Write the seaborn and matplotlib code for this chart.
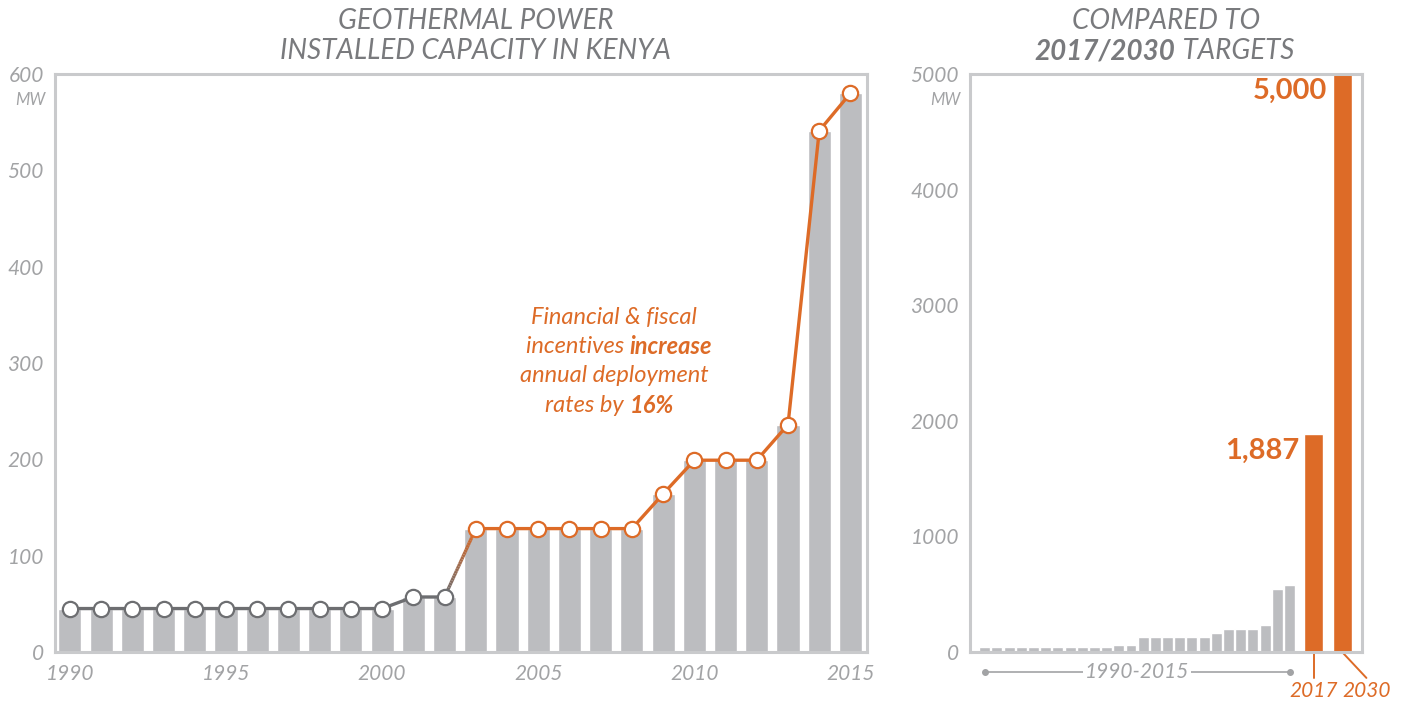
import numpy as np
import matplotlib.pyplot as plt
import seaborn as sns
import matplotlib.transforms as mtransforms
from matplotlib.collections import LineCollection
from matplotlib.colors import LinearSegmentedColormap

# data
years = [1990, 1991, 1992, 1993, 1994, 1995, 1996, 1997, 1998, 1999, 2000,
         2001, 2002, 2003, 2004, 2005, 2006, 2007, 2008, 2009, 2010, 2011,
         2012, 2013, 2014, 2015]
capacity_mw = [45, 45, 45, 45, 45, 45, 45, 45, 45, 45, 45,
               57, 57, 128, 128, 128, 128, 128, 128, 164, 199, 199,
               199, 236, 541, 580]
target_years = ["2017", "2030"]
target_mw = [1887, 5000]
target_labels = ["1,887", "5,000"]

GREY_BAR = "#bcbdc0"
ORANGE = "#dd6b27"
LINE_GREY = "#6d6e71"
SPINE = "#c9cacc"
TICK = "#a2a3a5"
TITLE = "#797a7d"

sns.set_theme(style="white")
plt.rcParams['font.family'] = ['Lato', 'DejaVu Sans']
plt.rcParams['font.style'] = 'italic'

fig = plt.figure(figsize=(14.08, 7.04), dpi=100)

# ---------- left panel ----------
ax1 = fig.add_axes([0.039, 0.074, 0.577, 0.821])
sns.barplot(x=years, y=capacity_mw, native_scale=True, color=GREY_BAR,
            saturation=1, width=0.74, ax=ax1, zorder=1)

split = years.index(2003)
sns.lineplot(x=years[:split], y=capacity_mw[:split], color=LINE_GREY, lw=2.4,
             marker='o', markersize=11, markerfacecolor='white',
             markeredgecolor=LINE_GREY, markeredgewidth=1.6, ax=ax1, zorder=4)
sns.lineplot(x=years[split:], y=capacity_mw[split:], color=ORANGE, lw=2.4,
             marker='o', markersize=11, markerfacecolor='white',
             markeredgecolor=ORANGE, markeredgewidth=1.6, ax=ax1, zorder=4)

# grey -> orange fade on the 2002-2003 step
t = np.linspace(0, 1, 30)
gx = years[split - 1] + t * (years[split] - years[split - 1])
gy = capacity_mw[split - 1] + t * (capacity_mw[split] - capacity_mw[split - 1])
pts = np.column_stack([gx, gy]).reshape(-1, 1, 2)
segs = np.concatenate([pts[:-1], pts[1:]], axis=1)
cmap = LinearSegmentedColormap.from_list("fade", [LINE_GREY, ORANGE])
lc = LineCollection(segs, cmap=cmap, linewidth=2.4, zorder=3)
lc.set_array(t[:-1])
ax1.add_collection(lc)

ax1.set_xlim(1989.52, 2015.54)
ax1.set_ylim(0, 600)
ax1.set_xticks([1990, 1995, 2000, 2005, 2010, 2015])
ax1.set_yticks(range(0, 601, 100))
ax1.set_xlabel("")
ax1.set_ylabel("")
ax1.tick_params(length=0, labelsize=15, labelcolor=TICK)
ax1.tick_params(axis='x', pad=9)
ax1.tick_params(axis='y', pad=8)
for s in ax1.spines.values():
    s.set_color(SPINE)
    s.set_linewidth(2.2)
ax1.annotate("MW", xy=(0, 600), xycoords=('axes fraction', 'data'),
             xytext=(-7, -19), textcoords='offset points', ha='right', va='center',
             fontsize=12, color=TICK)

# annotation text, bold parts placed next to the light parts
tc = dict(color=ORANGE, fontsize=17, transform=ax1.transAxes, va='center')
ax1.text(0.688, 0.578, "Financial & fiscal", ha='center', **tc)
ax1.text(0.707, 0.528, "incentives ", ha='right', **tc)
ax1.text(0.707, 0.528, "increase", ha='left', fontweight='bold', **tc)
ax1.text(0.688, 0.478, "annual deployment", ha='center', **tc)
ax1.text(0.707, 0.427, "rates by ", ha='right', **tc)
ax1.text(0.707, 0.427, "16%", ha='left', fontweight='bold', **tc)

# ---------- right panel ----------
ax2 = fig.add_axes([0.689, 0.074, 0.278, 0.821])
idx = np.arange(len(capacity_mw))
sns.barplot(x=idx, y=capacity_mw, native_scale=True, color=GREY_BAR,
            saturation=1, width=0.9, ax=ax2)
target_pos = [len(idx) + 1.0, len(idx) + 3.3]
bar_w = 1.56
ax2.bar(target_pos, target_mw, width=bar_w, color=ORANGE, zorder=2)

for xp, v, lab in zip(target_pos, target_mw, target_labels):
    ax2.annotate(lab, xy=(xp - bar_w / 2, v), xytext=(-4, -12),
                 textcoords='offset points', ha='right', va='center',
                 fontsize=21, fontweight='bold', fontstyle='normal', color=ORANGE)

ax2.set_xlim(-1.19, 30.9)
ax2.set_ylim(0, 5000)
ax2.set_xticks([])
ax2.set_yticks(range(0, 5001, 1000))
ax2.set_xlabel("")
ax2.set_ylabel("")
ax2.tick_params(length=0, labelsize=15, labelcolor=TICK, pad=8)
for s in ax2.spines.values():
    s.set_color(SPINE)
    s.set_linewidth(2.2)
ax2.annotate("MW", xy=(0, 5000), xycoords=('axes fraction', 'data'),
             xytext=(-7, -19), textcoords='offset points', ha='right', va='center',
             fontsize=12, color=TICK)

# 1990-2015 span marker below the grey bars
tr = mtransforms.blended_transform_factory(ax2.transData, ax2.transAxes)
ax2.plot([idx[0], idx[-1]], [-0.035, -0.035], color=TICK, lw=1.2,
         marker='o', markersize=4, transform=tr, clip_on=False)
ax2.text((idx[0] + idx[-1]) / 2, -0.035, "1990-2015", transform=tr, ha='center',
         va='center', fontsize=15, color=TICK,
         bbox=dict(facecolor='white', edgecolor='none', pad=1))

# leader lines to the target year labels
leader_end = [target_pos[0], target_pos[1] + 2.0]
for xp, xe, yr in zip(target_pos, leader_end, target_years):
    ax2.plot([xp, xe], [0, -0.045], color=ORANGE, lw=1.4, transform=tr, clip_on=False)
    ax2.text(xe, -0.068, yr, transform=tr, ha='center', va='center',
             fontsize=15, color=ORANGE)

# ---------- titles ----------
fig.text(0.338, 0.970, "GEOTHERMAL POWER", ha='center', va='center',
         fontsize=20, color=TITLE)
fig.text(0.338, 0.927, "INSTALLED CAPACITY IN KENYA", ha='center', va='center',
         fontsize=20, color=TITLE)
fig.text(0.828, 0.970, "COMPARED TO", ha='center', va='center',
         fontsize=20, color=TITLE)
fig.text(0.835, 0.927, "2017/2030", ha='right', va='center',
         fontsize=20, color=TITLE, fontweight='bold')
fig.text(0.835, 0.927, " TARGETS", ha='left', va='center',
         fontsize=20, color=TITLE)

fig.savefig("out.png", dpi=100)
